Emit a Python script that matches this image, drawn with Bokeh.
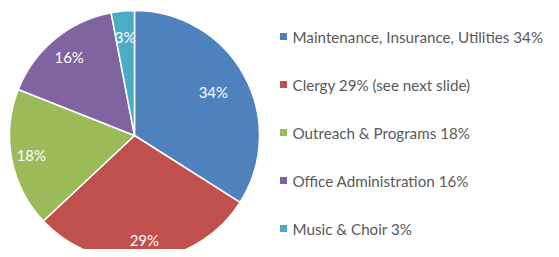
import numpy as np
from bokeh.plotting import figure
from bokeh.models import ColumnDataSource
from bokeh.core.properties import value
from bokeh.embed import file_html
from bokeh.resources import INLINE

# ---- data ----
categories = ["Maintenance, Insurance, Utilities", "Clergy", "Outreach & Programs",
              "Office Administration", "Music & Choir"]
shares = [34, 29, 18, 16, 3]
legend_labels = ["Maintenance, Insurance, Utilities 34%", "Clergy 29% (see next slide)",
                 "Outreach & Programs 18%", "Office Administration 16%", "Music & Choir 3%"]
colors = ["#4F81BD", "#C0504D", "#9BBB59", "#8064A2", "#4BACC6"]

# ---- layout (pixels in figure space) ----
W, H = 551, 249
CX, CY, R = 134, 114, 125
LABEL_R = [0.72, 0.84, 0.84, 0.82, 0.79]
LEG_X, LEG_TOP, LEG_STEP = 283, 213, 48

vals = np.array(shares, dtype=float)
frac = vals / vals.sum()
cum_end = np.cumsum(frac)
cum_start = cum_end - frac
start = np.pi / 2 - 2 * np.pi * cum_end
end = np.pi / 2 - 2 * np.pi * cum_start
mid = (start + end) / 2
lr = np.array(LABEL_R) * R

src = ColumnDataSource(dict(
    start=start, end=end, color=colors,
    lx=CX + lr * np.cos(mid), ly=CY + lr * np.sin(mid),
    pct=[f"{v}%" for v in shares],
    legx=[LEG_X] * len(shares),
    legy=[LEG_TOP - i * LEG_STEP for i in range(len(shares))],
    legtx=[LEG_X + 9] * len(shares),
    leg=legend_labels,
))

p = figure(width=W, height=H, x_range=(0, W), y_range=(0, H),
           output_backend="svg", toolbar_location=None, min_border=0)
p.axis.visible = False
p.grid.visible = False
p.outline_line_color = None
p.background_fill_color = "white"

p.wedge(x=CX, y=CY, radius=R, start_angle="start", end_angle="end",
        fill_color="color", line_color="white", line_width=1.5, source=src)

p.text(x="lx", y="ly", text="pct", source=src, text_color="white",
       text_font=value("Lato"), text_font_size="15px",
       text_align="center", text_baseline="middle")

p.scatter(x="legx", y="legy", marker="square", size=7, fill_color="color",
          line_color=None, source=src)
p.text(x="legtx", y="legy", text="leg", source=src, text_color="#595959",
       text_font=value("Lato"), text_font_size="15.2px",
       text_align="left", text_baseline="middle")

open("out.html", "w").write(file_html(p, INLINE))
